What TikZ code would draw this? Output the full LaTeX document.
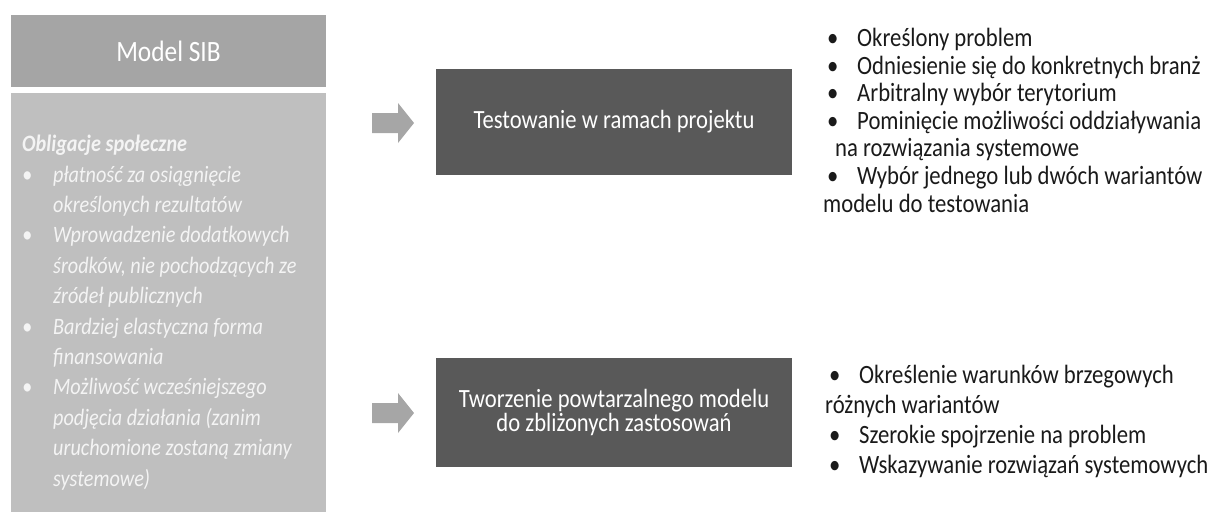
\documentclass[tikz,border=0pt]{standalone}
\usepackage{fontspec}
\setmainfont[FakeStretch=0.86]{Carlito}
\usetikzlibrary{positioning}

\definecolor{titlegray}{HTML}{A5A5A5}
\definecolor{panelgray}{HTML}{BFBFBF}
\definecolor{darkbox}{HTML}{595959}
\definecolor{arrowgray}{HTML}{A6A6A6}
\definecolor{bodytext}{HTML}{1A1A1A}
\definecolor{softwhite}{HTML}{F4F4F4}

\newcommand{\lbul}{\makebox[31pt][l]{•}}
\newcommand{\lind}{\hspace*{31pt}}
\newcommand{\rbul}{\makebox[34pt][l]{\hspace*{4pt}•}}

\tikzset{
  titlebox/.style={fill=titlegray, inner sep=0pt, text=white,
    font=\fontsize{29.5}{32}\selectfont},
  panelbox/.style={fill=panelgray, inner sep=0pt},
  stagebox/.style={fill=darkbox, inner sep=0pt, text=white, align=center,
    font=\fontsize{26.3}{24.5}\selectfont},
  paneltext/.style={inner sep=0pt, anchor=north west, align=left, text=softwhite,
    font=\fontsize{23.5}{30.4}\selectfont\itshape},
  listtext/.style={inner sep=0pt, anchor=north west, align=left, text=bodytext,
    font=\fontsize{26.4}{27.6}\selectfont},
  blockarrow/.pic={
    \fill[arrowgray] (0,-10) -- (26,-10) -- (26,-20) -- (42,0)
      -- (26,20) -- (26,10) -- (0,10) -- cycle;
  }
}

\begin{document}
\begin{tikzpicture}[x=1pt,y=-1pt]
\useasboundingbox (0,0) rectangle (1209,515);

% left column: model title and its description panel
\node[titlebox, minimum width=315pt, minimum height=72pt] (sib) at (168.5,51) {Model SIB};
\node[panelbox, minimum width=315pt, minimum height=419pt] (panel) at (168.5,302.5) {};
\node[paneltext] (paneltxt) at (22,135) {%
  \textbf{Obligacje społeczne}\\
  \lbul płatność za osiągnięcie\\
  \lind określonych rezultatów\\
  \lbul Wprowadzenie dodatkowych\\
  \lind środków, nie pochodzących ze\\
  \lind źródeł publicznych\\
  \lbul Bardziej elastyczna forma\\
  \lind finansowania\\
  \lbul Możliwość wcześniejszego\\
  \lind podjęcia działania (zanim\\
  \lind uruchomione zostaną zmiany\\
  \lind systemowe)};

% middle column: the two stages
\node[stagebox, minimum width=356pt, minimum height=106pt] (test) at (614,122) {Testowanie w ramach projektu};
\node[stagebox, minimum width=356pt, minimum height=109pt] (model) at (614,412.5)
  {Tworzenie powtarzalnego modelu\\do zbliżonych zastosowań};

% block arrows leading into the stages
\pic at (372,123) {blockarrow};
\pic at (372,413) {blockarrow};

% right column: remarks on each stage
\node[listtext] (testlist) at (823,28) {%
  \rbul Określony problem\\
  \rbul Odniesienie się do konkretnych branż\\
  \rbul Arbitralny wybór terytorium\\
  \rbul Pominięcie możliwości oddziaływania\\
  \hspace*{12pt}na rozwiązania systemowe\\
  \rbul Wybór jednego lub dwóch wariantów\\
  modelu do testowania};
\node[listtext, font=\fontsize{26.4}{30}\selectfont] (modellist) at (825,365) {%
  \rbul Określenie warunków brzegowych\\
  różnych wariantów\\
  \rbul Szerokie spojrzenie na problem\\
  \rbul Wskazywanie rozwiązań systemowych};
\end{tikzpicture}
\end{document}
